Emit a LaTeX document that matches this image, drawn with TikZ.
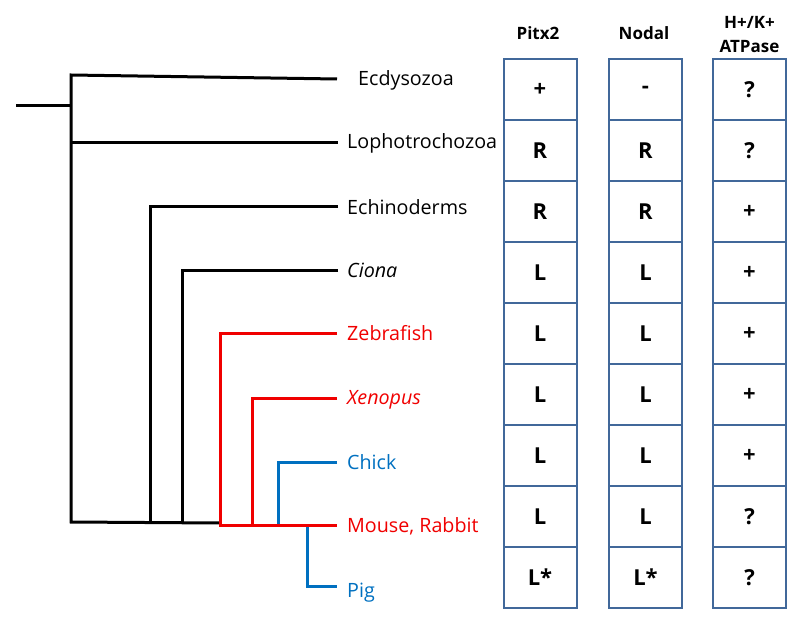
\documentclass[tikz,border=0pt]{standalone}
\usepackage{fontspec}
\setmainfont{Open Sans}
\definecolor{boxblue}{RGB}{65,104,154}
\definecolor{treered}{RGB}{240,0,0}
\definecolor{treeblue}{RGB}{0,112,192}
\begin{document}
\begin{tikzpicture}[x=1pt,y=-1pt,
  cell/.style={draw=boxblue, line width=2pt, minimum width=73pt, minimum height=61pt, inner sep=0pt,
    font=\bfseries\fontsize{22}{22}\selectfont},
  hdr/.style={font=\bfseries\fontsize{17}{24}\selectfont, align=center, inner sep=0pt},
  taxon/.style={anchor=west, inner sep=0pt, text height=14pt, text depth=0pt,
    font=\fontsize{19.7}{19.7}\selectfont},
  branch/.style={line width=3pt, line join=miter}
]
\useasboundingbox (0,0) rectangle (800,623);

% headers
\node[hdr] (hp) at (538,33) {Pitx2};
\node[hdr] (hn) at (644,33) {Nodal};
\node[hdr] (ha) at (749.5,35) {H+/K+\\ATPase};

% cells
\foreach \i/\p/\n/\a in {1/+/-/?,2/R/R/?,3/R/R/+,4/L/L/+,5/L/L/+,6/L/L/+,7/L/L/+,8/L/L/?,9/L*/L*/?}{
  \node[cell] (p\i) at (540,{28.5+61*\i}) {\p};
  \node[cell] (n\i) at (645.5,{28.5+61*\i}) {\n};
  \node[cell] (a\i) at (749.5,{28.5+61*\i}) {\a};
}

% taxa labels
\node[taxon] (ecd) at (358,79) {Ecdysozoa};
\node[taxon] (loph) at (347,142) {Lophotrochozoa};
\node[taxon] (echi) at (347,207) {Echinoderms};
\node[taxon] (cion) at (347,270) {\itshape Ciona};
\node[taxon, text=treered] (zeb) at (347,333) {Zebrafish};
\node[taxon, text=treered] (xen) at (347,397) {\itshape Xenopus};
\node[taxon, text=treeblue] (chick) at (347,462) {Chick};
\node[taxon, text=treered] (mouse) at (347,525) {Mouse, Rabbit};
\node[taxon, text=treeblue] (pig) at (347,590) {Pig};

% tree coordinates
\coordinate (root) at (16,106);
\coordinate (r0) at (71,106);
\coordinate (top0) at (71,75);
\coordinate (bot0) at (71,522);
\coordinate (lEcd) at (337,79);
\coordinate (lLoph) at (338,142);
\coordinate (bLoph) at (71,142);
\coordinate (lEchi) at (338,206);
\coordinate (cEchi) at (150,206);
\coordinate (bEchi) at (150,522);
\coordinate (lCion) at (338,270);
\coordinate (cCion) at (182,270);
\coordinate (bCion) at (182,522);
\coordinate (vEnd) at (220,523);
\coordinate (lZeb) at (337,333);
\coordinate (cZeb) at (220,333);
\coordinate (bZeb) at (220,525);
\coordinate (lMouse) at (337,525);
\coordinate (lXen) at (337,398);
\coordinate (cXen) at (252,398);
\coordinate (bXen) at (252,525);
\coordinate (lChick) at (337,462);
\coordinate (cChick) at (278,462);
\coordinate (bChick) at (278,525);
\coordinate (tPig) at (307,525);
\coordinate (cPig) at (307,586);
\coordinate (lPig) at (337,586);

% black branches
\draw[branch] (root) -- (r0);
\draw[branch] (lEcd) -- (top0) -- (bot0) -- (vEnd);
\draw[branch] (bLoph) -- (lLoph);
\draw[branch] (lEchi) -- (cEchi) -- (bEchi);
\draw[branch] (lCion) -- (cCion) -- (bCion);
% blue branches
\draw[branch, treeblue] (lChick) -- (cChick) -- (bChick);
\draw[branch, treeblue] (tPig) -- (cPig) -- (lPig);
% red branches
\draw[branch, treered] (lZeb) -- (cZeb) -- (bZeb) -- (lMouse);
\draw[branch, treered] (lXen) -- (cXen) -- (bXen);
\end{tikzpicture}
\end{document}
